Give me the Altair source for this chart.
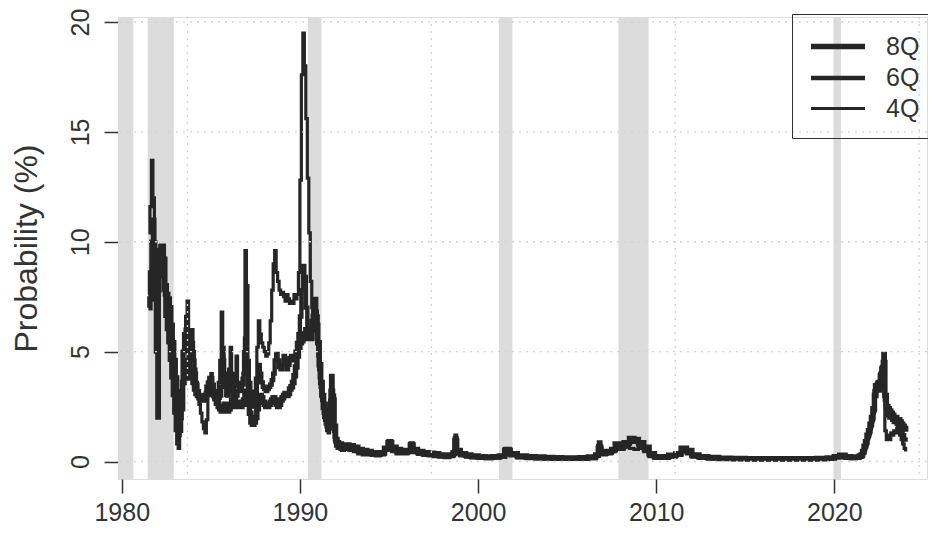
import altair as alt
import pandas as pd

# ---------------- data ----------------
horizons = ["8Q", "6Q", "4Q"]

# monthly observations Jul 1981 .. Jun 1992
early_start = 1981.5
q8_early = [7.0, 7.4, 8.2, 9.0, 9.4, 8.6,
            7.8, 8.8, 9.6, 9.8, 9.2, 8.0,
            7.6, 7.4, 7.0, 6.2, 5.4, 4.6,
            3.8, 3.0, 2.4, 2.0, 2.4, 3.6,
            4.2, 4.6, 4.4, 3.8, 4.2, 4.0,
            3.6, 3.3, 3.1, 3.0, 2.9, 2.8,
            2.8, 2.9, 3.0, 3.1, 3.2, 3.3,
            3.3, 3.1, 3.0, 2.9, 2.7, 2.5,
            2.4, 2.3, 2.5, 2.6, 2.4, 2.3,
            2.4, 2.6, 2.8, 2.6, 2.5, 2.6,
            2.7, 2.6, 2.5, 2.6, 2.8, 3.2,
            3.0, 2.6, 2.2, 1.8, 1.7, 1.8,
            2.0, 2.4, 2.8, 3.0, 2.9, 2.7,
            2.6, 2.5, 2.5, 2.6, 2.7, 2.8,
            2.9, 2.8, 2.6, 2.5, 2.6, 2.8,
            2.9, 3.0, 3.1, 3.0, 3.1, 3.3,
            3.4, 3.6, 3.9, 4.3, 4.8, 5.2,
            5.4, 5.5, 5.6, 5.8, 6.0, 5.8,
            5.6, 5.6, 6.0, 6.6, 6.8, 6.2,
            5.4, 4.4, 3.6, 3.0, 2.6, 2.3,
            2.0, 1.8, 2.2, 3.2, 2.8, 1.6,
            1.0, 0.85, 0.8, 0.8, 0.75, 0.75]
q6_early = [7.6, 8.6, 10.0, 11.0, 9.6, 5.0,
            2.0, 8.6, 9.8, 9.6, 8.8, 7.6,
            7.0, 6.4, 5.8, 5.2, 4.4, 3.6,
            2.8, 2.0, 1.2, 1.4, 3.2, 5.0,
            5.8, 6.0, 5.0, 4.2, 5.0, 5.4,
            4.6, 4.0, 3.5, 3.2, 3.0, 2.9,
            2.8, 2.8, 3.0, 3.4, 3.6, 3.8,
            3.8, 3.5, 3.2, 3.0, 3.0, 2.9,
            3.0, 3.4, 4.6, 4.0, 3.4, 3.0,
            3.2, 4.0, 3.6, 3.0, 2.9, 3.0,
            3.2, 3.3, 3.2, 3.5, 4.0, 5.6,
            4.4, 3.4, 2.9, 2.6, 2.5, 2.7,
            3.0, 3.6, 4.4, 4.0, 3.6, 3.4,
            3.3, 3.2, 3.3, 3.4, 3.5, 3.7,
            4.0, 4.6, 4.9, 4.6, 4.3, 4.2,
            4.4, 4.8, 4.6, 4.2, 4.4, 4.7,
            4.8, 4.6, 4.7, 5.0, 5.4, 5.8,
            6.6, 7.8, 8.9, 8.4, 7.0, 6.0,
            5.6, 5.8, 6.4, 7.0, 7.4, 6.6,
            5.4, 4.2, 3.4, 2.8, 2.2, 1.9,
            1.6, 1.5, 2.6, 3.9, 3.0, 1.4,
            0.9, 0.75, 0.75, 0.7, 0.7, 0.7]
q4_early = [10.4, 11.6, 13.7, 12.0, 10.0, 8.4,
            7.2, 8.4, 9.4, 9.0, 7.8, 6.6,
            6.0, 5.4, 4.6, 3.8, 3.0, 2.2,
            1.4, 0.8, 0.6, 1.4, 2.6, 4.2,
            5.6, 6.6, 7.3, 5.0, 5.8, 6.0,
            5.0, 4.2, 3.6, 3.0, 2.6, 2.2,
            1.8, 1.5, 1.3, 1.9, 3.0, 3.8,
            4.0, 3.4, 2.8, 2.6, 3.0, 3.6,
            4.6, 6.8, 5.2, 3.6, 3.0, 3.2,
            4.2, 5.2, 4.0, 3.0, 3.4, 4.8,
            3.6, 3.2, 3.4, 3.8, 5.0, 9.6,
            8.0, 4.6, 3.6, 3.0, 2.8, 3.2,
            3.8, 5.2, 6.4, 5.8, 5.4, 5.2,
            5.0, 4.8, 4.9, 5.4, 6.4, 7.8,
            9.0, 9.6, 8.6, 8.2, 7.8, 7.6,
            7.7, 7.5, 7.3, 7.6, 7.4, 7.2,
            7.3, 7.2, 7.6, 7.4, 7.6, 8.6,
            12.8, 17.6, 19.5, 18.0, 15.6, 12.9,
            10.4, 8.2, 7.0, 6.6, 6.2, 5.6,
            4.8, 3.8, 3.0, 2.4, 2.0, 1.7,
            1.4, 1.3, 2.8, 3.6, 2.4, 1.1,
            0.7, 0.6, 0.6, 0.55, 0.5, 0.5]

# calm period, irregular dates
flat_years = [1992.5, 1992.75, 1993.0, 1993.25, 1993.5, 1993.75, 1994.0, 1994.25, 1994.5, 1994.75,
              1994.95, 1995.15, 1995.4, 1995.65, 1995.9, 1996.05, 1996.2, 1996.35, 1996.6, 1996.9,
              1997.2, 1997.5, 1997.8, 1998.1, 1998.4, 1998.6, 1998.7, 1998.8, 1999.0, 1999.3,
              1999.6, 2000.0, 2000.4, 2000.8, 2001.2, 2001.5, 2001.8, 2002.2, 2002.7, 2003.2,
              2003.7, 2004.2, 2004.7, 2005.2, 2005.7, 2006.2, 2006.6, 2006.75, 2006.9, 2007.2,
              2007.5, 2007.7, 2007.9, 2008.2, 2008.5, 2008.75, 2009.0, 2009.3, 2009.6, 2009.9,
              2010.3, 2010.7, 2011.1, 2011.4, 2011.7, 2012.0, 2012.4, 2012.9, 2013.5, 2014.2,
              2015.0, 2015.8, 2016.6, 2017.4, 2018.2, 2019.0, 2019.6, 2020.0, 2020.3, 2020.6,
              2020.9, 2021.2, 2021.4]
q8_flat = [0.75, 0.72, 0.65, 0.55, 0.5, 0.45, 0.4, 0.35, 0.4, 0.6,
           0.85, 0.65, 0.55, 0.5, 0.45, 0.5, 0.75, 0.55, 0.45, 0.4,
           0.38, 0.35, 0.3, 0.28, 0.3, 0.4, 0.95, 0.5, 0.35, 0.3,
           0.25, 0.22, 0.2, 0.22, 0.25, 0.5, 0.35, 0.25, 0.22, 0.2,
           0.18, 0.17, 0.16, 0.16, 0.17, 0.2, 0.3, 0.6, 0.4, 0.45,
           0.55, 0.8, 0.7, 0.85, 1.05, 1.0, 0.85, 0.65, 0.35, 0.22,
           0.22, 0.28, 0.35, 0.6, 0.5, 0.3, 0.22, 0.18, 0.15, 0.14,
           0.13, 0.13, 0.13, 0.13, 0.13, 0.14, 0.16, 0.22, 0.28, 0.22,
           0.2, 0.2, 0.25]
q6_flat = [0.65, 0.6, 0.55, 0.45, 0.4, 0.38, 0.35, 0.3, 0.35, 0.55,
           0.9, 0.55, 0.45, 0.42, 0.4, 0.45, 0.8, 0.45, 0.38, 0.33,
           0.3, 0.28, 0.25, 0.22, 0.26, 0.35, 1.05, 0.45, 0.3, 0.25,
           0.2, 0.18, 0.16, 0.18, 0.22, 0.55, 0.3, 0.2, 0.17, 0.15,
           0.14, 0.13, 0.12, 0.12, 0.13, 0.16, 0.26, 0.7, 0.35, 0.4,
           0.5, 0.75, 0.65, 0.8, 0.95, 0.9, 0.75, 0.55, 0.28, 0.18,
           0.18, 0.24, 0.3, 0.55, 0.42, 0.25, 0.18, 0.14, 0.12, 0.11,
           0.1, 0.1, 0.1, 0.1, 0.1, 0.11, 0.13, 0.2, 0.26, 0.18,
           0.16, 0.17, 0.22]
q4_flat = [0.55, 0.5, 0.45, 0.35, 0.3, 0.3, 0.28, 0.25, 0.3, 0.5,
           0.95, 0.45, 0.35, 0.35, 0.35, 0.4, 0.85, 0.4, 0.32, 0.28,
           0.25, 0.22, 0.2, 0.18, 0.22, 0.3, 1.2, 0.4, 0.25, 0.2,
           0.16, 0.14, 0.13, 0.15, 0.2, 0.6, 0.25, 0.16, 0.13, 0.12,
           0.11, 0.1, 0.1, 0.1, 0.1, 0.13, 0.22, 0.9, 0.3, 0.35,
           0.45, 0.7, 0.55, 0.65, 0.6, 0.55, 0.6, 0.45, 0.22, 0.14,
           0.14, 0.2, 0.28, 0.5, 0.35, 0.2, 0.14, 0.11, 0.09, 0.08,
           0.08, 0.08, 0.08, 0.08, 0.08, 0.09, 0.11, 0.18, 0.24, 0.15,
           0.13, 0.15, 0.2]

# monthly observations Jul 2021 .. Jan 2024
late_start = 2021.5
q8_late = [0.3, 0.45, 0.7, 0.9, 1.2, 1.4,
           1.7, 2.0, 2.4, 3.0, 3.3, 3.5,
           3.6, 3.9, 4.2, 4.5, 3.0, 2.5,
           2.4, 2.3, 2.2, 2.1, 2.0, 2.0,
           1.9, 1.9, 1.8, 1.7, 1.6, 1.5,
           1.35]
q6_late = [0.25, 0.4, 0.6, 0.8, 1.1, 1.3,
           1.6, 1.9, 2.3, 3.2, 3.4, 3.6,
           3.4, 4.0, 4.3, 4.9, 2.8, 2.2,
           2.1, 2.0, 2.0, 1.9, 1.8, 1.8,
           1.7, 1.6, 1.5, 1.4, 1.2, 1.0,
           0.9]
q4_late = [0.2, 0.35, 0.5, 0.7, 1.0, 1.2,
           1.5, 1.8, 2.2, 3.5, 3.2, 3.5,
           3.2, 3.8, 4.2, 4.6, 1.4, 1.0,
           1.2, 1.0, 1.3, 1.2, 1.4, 1.3,
           1.5, 1.3, 1.2, 1.0, 0.8, 0.6,
           0.45]

# NBER recessions (decimal years)
rec_start = [1979.8, 1981.46, 1990.45, 2001.18, 2007.88, 2019.95]
rec_end = [1980.65, 1982.92, 1991.21, 2001.93, 2009.57, 2020.37]

# axis ticks and R-style grid positions
x_ticks = [1980, 1990, 2000, 2010, 2020]
y_ticks = [0, 5, 10, 15, 20]
grid_x = [1983.69, 1997.38, 2011.07, 2024.76]
grid_y = [0, 5, 10, 15, 20]

# ---------------- tables ----------------
def monthly(start, n):
    return [start + k / 12 for k in range(n)]

series = {
    "8Q": (q8_early, q8_flat, q8_late),
    "6Q": (q6_early, q6_flat, q6_late),
    "4Q": (q4_early, q4_flat, q4_late),
}
rows = []
for h in horizons:
    e, f, l = series[h]
    yrs = monthly(early_start, len(e)) + flat_years + monthly(late_start, len(l))
    vals = e + f + l
    for t, v in zip(yrs, vals):
        rows.append({"year": t, "prob": v, "horizon": h})
df = pd.DataFrame(rows)
rec_df = pd.DataFrame({"start": rec_start, "end": rec_end})
gx_df = pd.DataFrame({"g": grid_x})
gy_df = pd.DataFrame({"g": grid_y})

# ---------------- chart ----------------
FONT = "Liberation Sans"
TXT = "#333333"
LINE = "#262626"

W, H = 809, 462
xscale = alt.Scale(domain=[1979.79, 2025.2], nice=False, zero=False)
yscale = alt.Scale(domain=[-0.796, 20.2275], nice=False, zero=False)

x_axis = alt.Axis(values=x_ticks, format="d", title=None, grid=False, domain=False,
                  tickSize=14, tickWidth=1.5, tickColor=TXT, labelFontSize=25,
                  labelColor=TXT, labelFont=FONT, labelPadding=7, labelFlush=False,
                  labelOverlap=False)
y_axis = alt.Axis(values=y_ticks, title="Probability (%)", grid=False, domain=False,
                  tickSize=14, tickWidth=1.5, tickColor=TXT, labelFontSize=25,
                  labelColor=TXT, labelFont=FONT, labelAngle=270, labelAlign="center",
                  labelBaseline="middle", labelPadding=24, labelFlush=False,
                  labelOverlap=False, titleAngle=270, titleX=-92, titleY=H / 2,
                  titleBaseline="middle", titleFontSize=32, titleFontWeight="normal",
                  titleColor=TXT, titleFont=FONT)

rec = alt.Chart(rec_df).mark_rect(color="#dcdcdc").encode(
    x=alt.X("start:Q", scale=xscale, axis=x_axis),
    x2="end:Q",
)

lines = alt.Chart(df).mark_line(color=LINE, interpolate="step-after").encode(
    x=alt.X("year:Q", scale=xscale, axis=x_axis),
    y=alt.Y("prob:Q", scale=yscale, axis=y_axis),
    strokeWidth=alt.StrokeWidth(
        "horizon:O",
        sort=horizons,
        scale=alt.Scale(domain=horizons, range=[5.5, 3.2, 1.2]),
        legend=alt.Legend(
            title=None, orient="none", legendX=674, legendY=-3,
            symbolType="M-1,0H3", symbolSize=729, symbolStrokeColor=LINE,
            symbolFillColor="transparent",
            labelFontSize=25, labelFont=FONT, labelColor=TXT, labelOffset=45,
            rowPadding=2, padding=16, strokeColor=TXT,
        ),
    ),
)

vgrid = alt.Chart(gx_df).mark_rule(color="#d3d3d3", strokeDash=[2, 5], strokeWidth=1.3).encode(
    x=alt.X("g:Q", scale=xscale, axis=x_axis)
)
hgrid = alt.Chart(gy_df).mark_rule(color="#d3d3d3", strokeDash=[2, 5], strokeWidth=1.3).encode(
    y=alt.Y("g:Q", scale=yscale, axis=y_axis)
)

chart = alt.layer(rec, lines, vgrid, hgrid).properties(
    width=W, height=H,
    autosize=alt.AutoSizeParams(type="none"),
    padding={"left": 110, "top": 9, "right": 1, "bottom": 46},
).configure_view(stroke=TXT, strokeWidth=1.5).configure(font=FONT)

chart.save("out.html", embed_options={"renderer": "svg", "actions": False})
